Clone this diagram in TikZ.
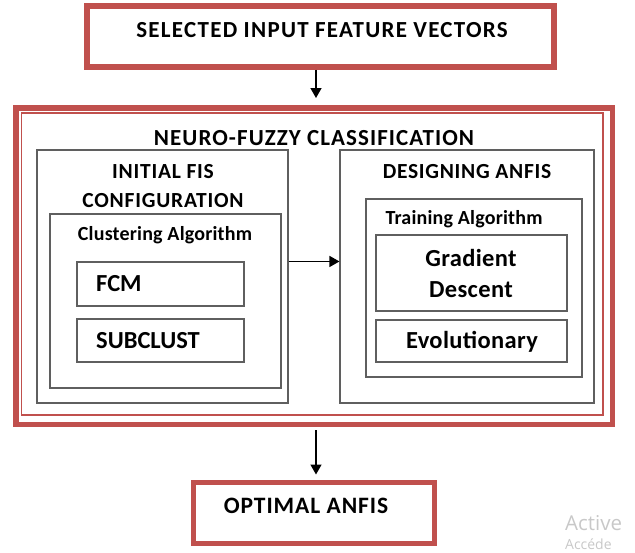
\documentclass[tikz,border=0pt]{standalone}
\usepackage{fontspec}
\setmainfont{Carlito}
\newfontfamily\wmfont{Open Sans}
\usetikzlibrary{arrows.meta}
\definecolor{boxred}{HTML}{C0504D}
\definecolor{boxgray}{HTML}{5F5F5F}
\definecolor{wmgray}{HTML}{C8C8C8}
\tikzset{
  redbox/.style={draw=boxred, line width=5.5pt, inner sep=0pt, fill=white},
  thinred/.style={draw=boxred, line width=1.4pt, inner sep=0pt},
  graybox/.style={draw=boxgray, line width=1.1pt, inner sep=0pt},
  arr/.style={line width=1.4pt, -{Triangle[length=10pt,width=11pt]}},
  lbl/.style={inner sep=0pt, text=black, font=\bfseries},
}
\newcommand{\fsz}[1]{\fontsize{#1}{#1}\selectfont}
\newcommand{\spc}[1]{\addfontfeatures{LetterSpace=#1}}
\begin{document}
\begin{tikzpicture}[x=1pt,y=-1pt]
\useasboundingbox (0,0) rectangle (635,552);
% boxes
\node[redbox, minimum width=467pt, minimum height=61pt] (top) at (320.5,36.5) {};
\node[redbox, minimum width=596.5pt, minimum height=316.5pt] (bigout) at (314,266) {};
\node[thinred, minimum width=581.5pt, minimum height=302pt] (bigin) at (312.25,264) {};
\node[graybox, minimum width=251pt, minimum height=253pt] (left) at (162.5,276.5) {};
\node[graybox, minimum width=231pt, minimum height=174pt] (clust) at (165.5,301) {};
\node[graybox, minimum width=167pt, minimum height=44pt] (fcm) at (160.5,284) {};
\node[graybox, minimum width=167pt, minimum height=43pt] (sub) at (160.5,340.5) {};
\node[graybox, minimum width=254pt, minimum height=253pt] (right) at (467,276.5) {};
\node[graybox, minimum width=216pt, minimum height=178pt] (train) at (474,288) {};
\node[graybox, minimum width=191pt, minimum height=76pt] (gd) at (471.5,273) {};
\node[graybox, minimum width=191pt, minimum height=42pt] (evo) at (471.5,341) {};
\node[redbox, line width=5pt, minimum width=241pt, minimum height=61pt] (opt) at (314,513) {};
% labels
\node[lbl, font=\bfseries\fsz{23}\spc{5.5}] (ttop) at (322,30) {SELECTED INPUT FEATURE VECTORS};
\node[lbl, font=\bfseries\fsz{23}\spc{4.7}] (tnf) at (314,138) {NEURO-FUZZY CLASSIFICATION};
\node[lbl, font=\bfseries\fsz{21.5}\spc{3.6}] (tinit) at (163,172) {INITIAL FIS};
\node[lbl, font=\bfseries\fsz{21.5}\spc{3.6}] (tconf) at (163,201) {CONFIGURATION};
\node[lbl, font=\bfseries\fsz{20}\spc{1}] (tclust) at (165,235) {Clustering Algorithm};
\node[lbl, font=\bfseries\fsz{24.5}, anchor=west] (tfcm) at (96,284) {FCM};
\node[lbl, font=\bfseries\fsz{24.5}, anchor=west] (tsub) at (96,341) {SUBCLUST};
\node[lbl, font=\bfseries\fsz{21.5}\spc{3.4}] (tdes) at (467,172) {DESIGNING ANFIS};
\node[lbl, font=\bfseries\fsz{20}\spc{1}] (ttrain) at (464,219) {Training Algorithm};
\node[lbl, font=\bfseries\fsz{24.5}\spc{1.5}] (tgrad) at (471,258) {Gradient};
\node[lbl, font=\bfseries\fsz{24.5}\spc{1.5}] (tdesc) at (471,290) {Descent};
\node[lbl, font=\bfseries\fsz{24.5}\spc{1.5}] (tevo) at (472,342) {Evolutionary};
\node[lbl, font=\bfseries\fsz{23.5}\spc{4}] (topt) at (306,506) {OPTIMAL ANFIS};
% connectors
\coordinate (ax) at (316,0);
\draw[arr, shorten >=7pt] (top.south -| ax) -- (bigout.north -| ax);
\draw[arr, shorten <=3pt, shorten >=5.5pt] (bigout.south -| ax) -- (opt.north -| ax);
\draw[arr] (left.east |- fcm.north) -- (right.west |- fcm.north);
% watermark
\node[inner sep=0pt, anchor=base west, text=wmgray, font=\wmfont\fsz{20.5}] (wm1) at (565,530) {Active};
\node[inner sep=0pt, anchor=base west, text=wmgray, font=\wmfont\fsz{14}] (wm2) at (565,549) {Accéde};
\end{tikzpicture}
\end{document}
